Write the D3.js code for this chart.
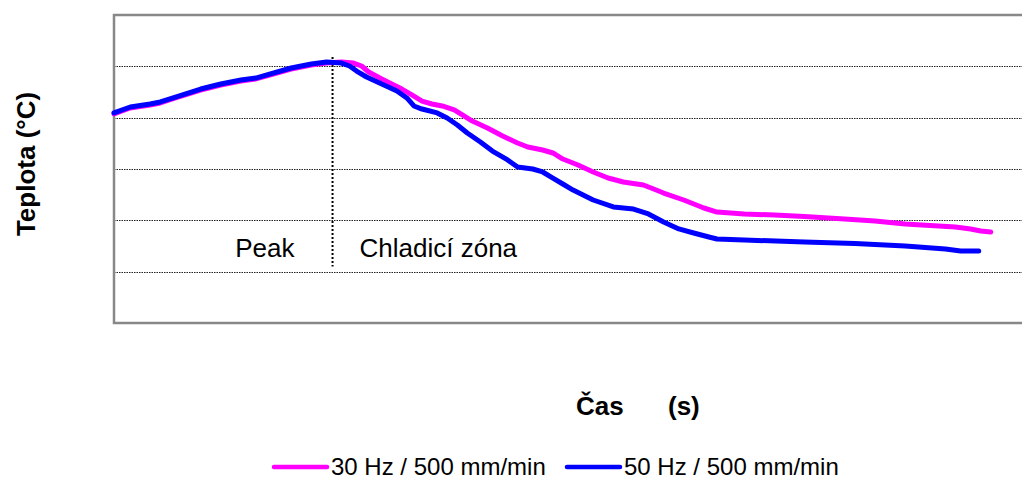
<!DOCTYPE html>
<html>
<head>
<meta charset="utf-8">
<script src="https://cdn.jsdelivr.net/npm/d3@7"></script>
<style>
  body { margin: 0; background: #fff; }
  svg { display: block; font-family: Arial, "Liberation Sans", sans-serif; }
</style>
</head>
<body>
<div id="chart"></div>
<script>
const width = 1022;
const height = 477;
const margin = { top: 15, right: -8, bottom: 154, left: 114 };

// time (s) and temperature (°C)
const time30 = [0, 6.2, 13.8, 17.7, 23.5, 33.1, 40.8, 48.5, 54.2, 58.1, 67.7, 75.4, 81.2, 86.9, 91.5, 94.6, 97.3, 102.3, 106.9, 110, 113.8, 117.7, 121.5, 125.4, 130, 133.1, 136.9, 142.7, 148.5, 154.2, 158.1, 163.8, 167.7, 171.5, 177.3, 183.1, 188.8, 194.6, 202.3, 206.2, 210, 217.7, 225.4, 230.4, 240.8, 252.3, 263.8, 279.2, 290.8, 302.3, 321.5, 327.3, 331.2, 335];
const temp30 = [203.6, 209.4, 212.3, 214.3, 219.2, 226.9, 231.8, 235.7, 237.7, 240.6, 247.4, 251.3, 253.2, 254.2, 253.2, 250.3, 244.5, 237.7, 231.8, 227.9, 222.1, 216.2, 213.3, 211.4, 207.5, 202.6, 196.7, 189.9, 182.1, 175.3, 171.4, 168.5, 165.6, 159.7, 153.9, 147.1, 141.2, 137.3, 134.4, 130.5, 126.6, 119.8, 112, 108.1, 106.2, 105.2, 103.7, 101.3, 99.3, 96.4, 93.5, 91.6, 89.6, 88.6];

const time50 = [0, 6.2, 13.8, 17.7, 23.5, 33.1, 40.8, 48.5, 54.2, 58.1, 67.7, 75.4, 81.2, 86.9, 90, 92.7, 96.5, 102.3, 108.1, 111.9, 114.6, 117.7, 123.5, 127.3, 131.2, 135, 140, 144.6, 150.4, 154.2, 160, 163.8, 167.7, 171.5, 175.4, 183.1, 190.8, 198.5, 204.2, 210, 215.8, 221.5, 227.3, 230.4, 240.8, 263.8, 283.1, 302.3, 317.7, 323.5, 330.4];
const temp50 = [204.6, 210.4, 213.3, 215.3, 220.1, 227.9, 232.8, 236.7, 238.6, 241.5, 248.4, 252.3, 254.2, 253.2, 250.3, 245.4, 239.6, 232.8, 226, 219.2, 211.4, 208.4, 204.6, 199.7, 192.9, 185.1, 176.3, 167.5, 158.8, 151.9, 150, 147.1, 141.2, 135.4, 129.5, 119.8, 113, 111, 106.2, 98.4, 91.6, 87.7, 83.8, 81.8, 80.8, 78.9, 77.4, 75, 72.1, 70.1, 70.1];

const seriesNames = ["30 Hz / 500 mm/min", "50 Hz / 500 mm/min"];
const seriesColors = ["#ff00ff", "#0000ff"];
const gridTemps = [50, 100, 150, 200, 250];
const peakTime = 83.5;
const peakSpan = [55, 259];
const zoneLabels = ["Peak", "Chladicí zóna"];

const innerWidth = width - margin.left - margin.right;
const innerHeight = height - margin.top - margin.bottom;

const svg = d3.select("#chart")
  .append("svg")
  .attr("width", width)
  .attr("height", height);

const innerChart = svg
  .append("g")
  .attr("transform", `translate(${margin.left}, ${margin.top})`);

const xScale = d3.scaleLinear()
  .domain([0, 350])
  .range([0, innerWidth]);

const yScale = d3.scaleLinear()
  .domain([0, 300])
  .range([innerHeight, 0]);

// dotted gridlines
innerChart.selectAll("line.grid")
  .data(gridTemps)
  .join("line")
  .attr("class", "grid")
  .attr("x1", 0)
  .attr("x2", innerWidth)
  .attr("y1", d => Math.round(yScale(d)) + 0.5)
  .attr("y2", d => Math.round(yScale(d)) + 0.5)
  .attr("stroke", "#222")
  .attr("stroke-width", 1)
  .attr("stroke-dasharray", "1.5,1");

// plot frame
innerChart.append("rect")
  .attr("x", 0)
  .attr("y", 0)
  .attr("width", innerWidth)
  .attr("height", innerHeight)
  .attr("fill", "none")
  .attr("stroke", "#888")
  .attr("stroke-width", 2.5);

// peak marker
innerChart.append("line")
  .attr("x1", xScale(peakTime))
  .attr("x2", xScale(peakTime))
  .attr("y1", yScale(peakSpan[1]))
  .attr("y2", yScale(peakSpan[0]))
  .attr("stroke", "#000")
  .attr("stroke-width", 2)
  .attr("stroke-dasharray", "2,2");

innerChart.append("text")
  .attr("x", xScale(peakTime) - 38)
  .attr("y", yScale(64))
  .attr("text-anchor", "end")
  .attr("font-size", 26)
  .text(zoneLabels[0]);

innerChart.append("text")
  .attr("x", xScale(peakTime) + 27)
  .attr("y", yScale(64))
  .attr("font-size", 26)
  .text(zoneLabels[1]);

const line = d3.line()
  .x(d => xScale(d[0]))
  .y(d => yScale(d[1]));

const series = [
  d3.zip(time30, temp30),
  d3.zip(time50, temp50)
];

innerChart.selectAll("path.series")
  .data(series)
  .join("path")
  .attr("class", "series")
  .attr("d", line)
  .attr("fill", "none")
  .attr("stroke", (d, i) => seriesColors[i])
  .attr("stroke-width", 5)
  .attr("stroke-linejoin", "round")
  .attr("stroke-linecap", "round");

// axis titles
svg.append("text")
  .attr("transform", `translate(35, ${margin.top + innerHeight / 2 - 5}) rotate(-90)`)
  .attr("text-anchor", "middle")
  .attr("font-size", 26)
  .attr("font-weight", "bold")
  .text("Teplota (°C)");

svg.append("text")
  .attr("x", 576)
  .attr("y", 415)
  .attr("font-size", 26)
  .attr("font-weight", "bold")
  .text("Čas");

svg.append("text")
  .attr("x", 668)
  .attr("y", 415)
  .attr("font-size", 26)
  .attr("font-weight", "bold")
  .text("(s)");

// legend
const legend = svg.append("g")
  .attr("transform", "translate(272, 467)");

const legendItems = legend.selectAll("g")
  .data(seriesNames)
  .join("g")
  .attr("transform", (d, i) => `translate(${i * 293}, 0)`);

legendItems.append("line")
  .attr("x1", 2)
  .attr("x2", 55)
  .attr("stroke", (d, i) => seriesColors[i])
  .attr("stroke-width", 4.5)
  .attr("stroke-linecap", "round");

legendItems.append("text")
  .attr("x", 59)
  .attr("y", 8)
  .attr("font-size", 24)
  .text(d => d);
</script>
</body>
</html>
